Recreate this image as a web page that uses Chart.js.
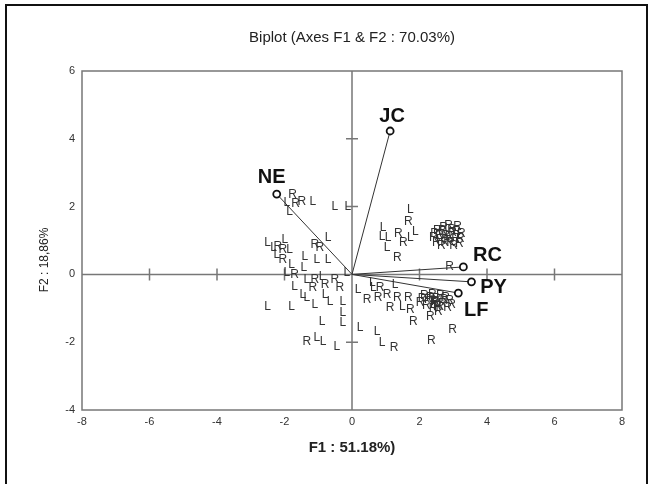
<!DOCTYPE html>
<html>
<head>
    <title>Biplot</title>
    <script src="https://cdn.jsdelivr.net/npm/chart.js@4/dist/chart.umd.min.js"></script>
    <style>
        body { margin: 0; background: #fff; overflow: hidden; }
        #frame { position: absolute; left: 5px; top: 4px; width: 639px; height: 500px; border: 2px solid #111; }
        #biplot { position: absolute; left: 0; top: 0; }
    </style>
</head>
<body>
    <div id="frame"></div>
    <canvas id="biplot" width="648" height="484"></canvas>

    <script>
        // observations (F1, F2) and their class letter
        var obsF1 = [
            -1.76, -1.93, -1.67, -1.49, -1.16, -1.85, -0.51, -1.99, -2.50, -2.20,
            -2.32, -2.05, -1.85, -2.23, -2.05, -1.10, -0.95, -0.71, -1.40, -1.04,
            -0.71, -1.79, -1.43, -1.93, -1.70, -1.34, -1.10, -0.89, -0.80, -0.51,
            -0.36, -1.70, -1.46, -1.34, -1.16, -0.80, -0.65, -1.10, -0.27, -2.50,
            -1.79, -0.89, -0.27, -0.27, -1.34, -1.04, -0.86, -0.45, -0.12, -0.15,
            1.73, 1.67, 1.88, 0.92, 0.89, 1.07, 1.37, 1.52, 1.73, 1.04,
            1.34, 2.89, 2.41, 2.53, 2.62, 2.71, 2.77, 2.86, 2.92, 2.98,
            3.07, 3.13, 3.18, 3.24, 2.65, 2.83, 2.50, 3.01,
            2.45, 2.59, 2.74, 2.95, 3.10, 3.21, 2.68, 2.88,
            0.18, 0.45, 0.63, 0.83, 0.77, 1.04, 1.13, 1.34, 1.49, 1.67,
            1.73, 1.82, 1.28, 2.02, 2.32, 2.53, 2.83, 2.98, 2.35, 0.24,
            0.74, 0.89, 1.25, 2.14, 2.26, 2.38, 2.50, 2.62, 2.20, 2.44,
            2.68, 2.56, 2.77, 2.89, 0.60,
            2.32, 2.47, 2.60, 2.72, 2.95, 2.40, 2.08
        ];
        var obsF2 = [
            2.35, 2.11, 2.08, 2.14, 2.14, 1.84, 1.99, 1.02, 0.93, 0.81,
            0.78, 0.72, 0.72, 0.58, 0.43, 0.87, 0.78, 1.08, 0.52, 0.43,
            0.43, 0.28, 0.19, 0.04, -0.01, -0.16, -0.16, -0.07, -0.31, -0.16,
            -0.40, -0.37, -0.60, -0.69, -0.40, -0.60, -0.81, -0.90, -0.81, -0.96,
            -0.96, -1.40, -1.14, -1.43, -1.99, -1.87, -1.99, -2.14, 1.99, 0.04,
            1.90, 1.55, 1.25, 1.37, 1.11, 1.08, 1.19, 0.93, 1.08, 0.78,
            0.49, 0.22, 1.08, 1.28, 1.02, 1.37, 1.14, 1.43, 0.93, 1.22,
            1.05, 1.40, 0.90, 1.19, 0.84, 0.99, 0.93, 0.84,
            1.20, 1.15, 0.95, 1.32, 1.25, 1.05, 1.30, 1.10,
            -0.46, -0.75, -0.40, -0.40, -0.69, -0.60, -0.99, -0.69, -0.96, -0.69,
            -1.05, -1.40, -0.31, -0.84, -1.25, -0.96, -0.99, -1.64, -1.96, -1.58,
            -1.70, -2.02, -2.17, -0.63, -0.75, -0.60, -0.72, -0.63, -0.93, -0.87,
            -0.87, -1.11, -0.69, -0.78, -0.25,
            -0.70, -0.80, -0.95, -0.75, -0.90, -1.02, -0.72
        ];
        var obsClass = [
            'R', 'L', 'R', 'R', 'L', 'L', 'L', 'L', 'L', 'R',
            'L', 'R', 'L', 'L', 'R', 'R', 'R', 'L', 'L', 'L',
            'L', 'L', 'L', 'L', 'R', 'L', 'R', 'L', 'R', 'R',
            'R', 'L', 'L', 'L', 'R', 'L', 'L', 'L', 'L', 'L',
            'L', 'L', 'L', 'L', 'R', 'L', 'L', 'L', 'L', 'L',
            'L', 'R', 'L', 'L', 'L', 'L', 'R', 'R', 'L', 'L',
            'R', 'R', 'R', 'R', 'R', 'R', 'R', 'R', 'R', 'R',
            'R', 'R', 'R', 'R', 'R', 'R', 'R', 'R',
            'R', 'R', 'R', 'R', 'R', 'R', 'R', 'R',
            'L', 'R', 'L', 'R', 'R', 'R', 'R', 'R', 'L', 'R',
            'R', 'R', 'L', 'R', 'R', 'R', 'R', 'R', 'R', 'L',
            'L', 'L', 'R', 'R', 'R', 'R', 'R', 'R', 'R', 'R',
            'R', 'R', 'R', 'R', 'L',
            'R', 'R', 'R', 'R', 'R', 'R', 'R'
        ];

        // variable vectors
        var varNames = ['JC', 'NE', 'RC', 'PY', 'LF'];
        var varF1 = [1.13, -2.23, 3.30, 3.54, 3.15];
        var varF2 = [4.23, 2.37, 0.22, -0.22, -0.55];
        // where each vector label sits relative to its end point (px)
        var varLabelDx = [2, -5, 24, 22, 18];
        var varLabelDy = [-15, -17, -11, 6, 17];

        var xTicks = [-8, -6, -4, -2, 0, 2, 4, 6, 8];
        var yTicks = [-4, -2, 0, 2, 4, 6];

        var chartTitle = 'Biplot (Axes F1 & F2 : 70.03%)';
        var xTitle = 'F1 : 51.18%)';
        var yTitle = 'F2 : 18,86%';

        var axisGrey = '#777';
        var fontFamily = '"Liberation Sans", Arial, sans-serif';

        var datasets = [{
            type: 'scatter',
            label: 'Observations',
            data: obsF1.map(function (v, i) { return { x: v, y: obsF2[i] }; }),
            pointRadius: 0,
            pointHoverRadius: 0
        }];
        varNames.forEach(function (name, i) {
            datasets.push({
                type: 'line',
                label: name,
                data: [{ x: 0, y: 0 }, { x: varF1[i], y: varF2[i] }],
                borderColor: '#333',
                borderWidth: 1,
                pointRadius: [0, 3.5],
                pointBorderWidth: 1.8,
                pointBorderColor: '#111',
                pointBackgroundColor: '#fff'
            });
        });

        // box, zero axes with crosses, titles and text labels
        var biplotDecor = {
            id: 'biplotDecor',
            beforeDatasetsDraw: function (chart) {
                var ctx = chart.ctx, a = chart.chartArea;
                var xs = chart.scales.x, ys = chart.scales.y;
                var x0 = xs.getPixelForValue(0), y0 = ys.getPixelForValue(0);
                ctx.save();
                ctx.strokeStyle = axisGrey;
                ctx.lineWidth = 1.5;
                ctx.strokeRect(a.left, a.top, a.right - a.left, a.bottom - a.top);
                ctx.beginPath();
                ctx.moveTo(a.left, y0); ctx.lineTo(a.right, y0);
                ctx.moveTo(x0, a.top); ctx.lineTo(x0, a.bottom);
                xTicks.forEach(function (t) {
                    if (t === 0 || t === -8 || t === 8) return;
                    var px = xs.getPixelForValue(t);
                    ctx.moveTo(px, y0 - 6); ctx.lineTo(px, y0 + 6);
                });
                yTicks.forEach(function (t) {
                    if (t === 0 || t === -4 || t === 6) return;
                    var py = ys.getPixelForValue(t);
                    ctx.moveTo(x0 - 6, py); ctx.lineTo(x0 + 6, py);
                });
                ctx.stroke();

                ctx.fillStyle = '#222';
                ctx.textAlign = 'center';
                ctx.textBaseline = 'middle';
                ctx.font = '15px ' + fontFamily;
                ctx.fillText(chartTitle, x0, 38);
                ctx.font = 'bold 15px ' + fontFamily;
                ctx.fillText(xTitle, x0, 448);
                ctx.translate(45, 260);
                ctx.rotate(-Math.PI / 2);
                ctx.font = '12px ' + fontFamily;
                ctx.fillText(yTitle, 0, 0);
                ctx.restore();
            },
            afterDatasetsDraw: function (chart) {
                var ctx = chart.ctx;
                ctx.save();
                ctx.textAlign = 'center';
                ctx.textBaseline = 'middle';
                ctx.fillStyle = '#333';
                ctx.font = '12px ' + fontFamily;
                chart.getDatasetMeta(0).data.forEach(function (pt, i) {
                    ctx.fillText(obsClass[i], pt.x, pt.y);
                });
                ctx.fillStyle = '#111';
                ctx.font = 'bold 20px ' + fontFamily;
                varNames.forEach(function (name, i) {
                    var end = chart.getDatasetMeta(i + 1).data[1];
                    ctx.fillText(name, end.x + varLabelDx[i], end.y + varLabelDy[i]);
                });
                ctx.restore();
            }
        };

        var tickFont = { family: fontFamily, size: 11 };

        var ctx = document.getElementById('biplot').getContext('2d');
        var chart = new Chart(ctx, {
            type: 'scatter',
            data: { datasets: datasets },
            options: {
                responsive: false,
                animation: false,
                events: [],
                layout: { padding: { left: 0, right: 26, top: 71, bottom: 0 } },
                plugins: {
                    legend: { display: false },
                    tooltip: { enabled: false },
                    title: { display: false }
                },
                scales: {
                    x: {
                        type: 'linear',
                        min: -8,
                        max: 8,
                        afterBuildTicks: function (s) { s.ticks = xTicks.map(function (v) { return { value: v }; }); },
                        afterFit: function (s) { s.height = 74; },
                        ticks: { color: '#333', font: tickFont, padding: 5, maxRotation: 0 },
                        grid: { display: false, drawTicks: false, tickLength: 0 },
                        border: { display: false }
                    },
                    y: {
                        type: 'linear',
                        min: -4,
                        max: 6,
                        afterBuildTicks: function (s) { s.ticks = yTicks.map(function (v) { return { value: v }; }); },
                        afterFit: function (s) { s.width = 82; },
                        ticks: { color: '#333', font: tickFont, padding: 7 },
                        grid: { display: false, drawTicks: false, tickLength: 0 },
                        border: { display: false }
                    }
                }
            },
            plugins: [biplotDecor]
        });
    </script>
</body>
</html>
